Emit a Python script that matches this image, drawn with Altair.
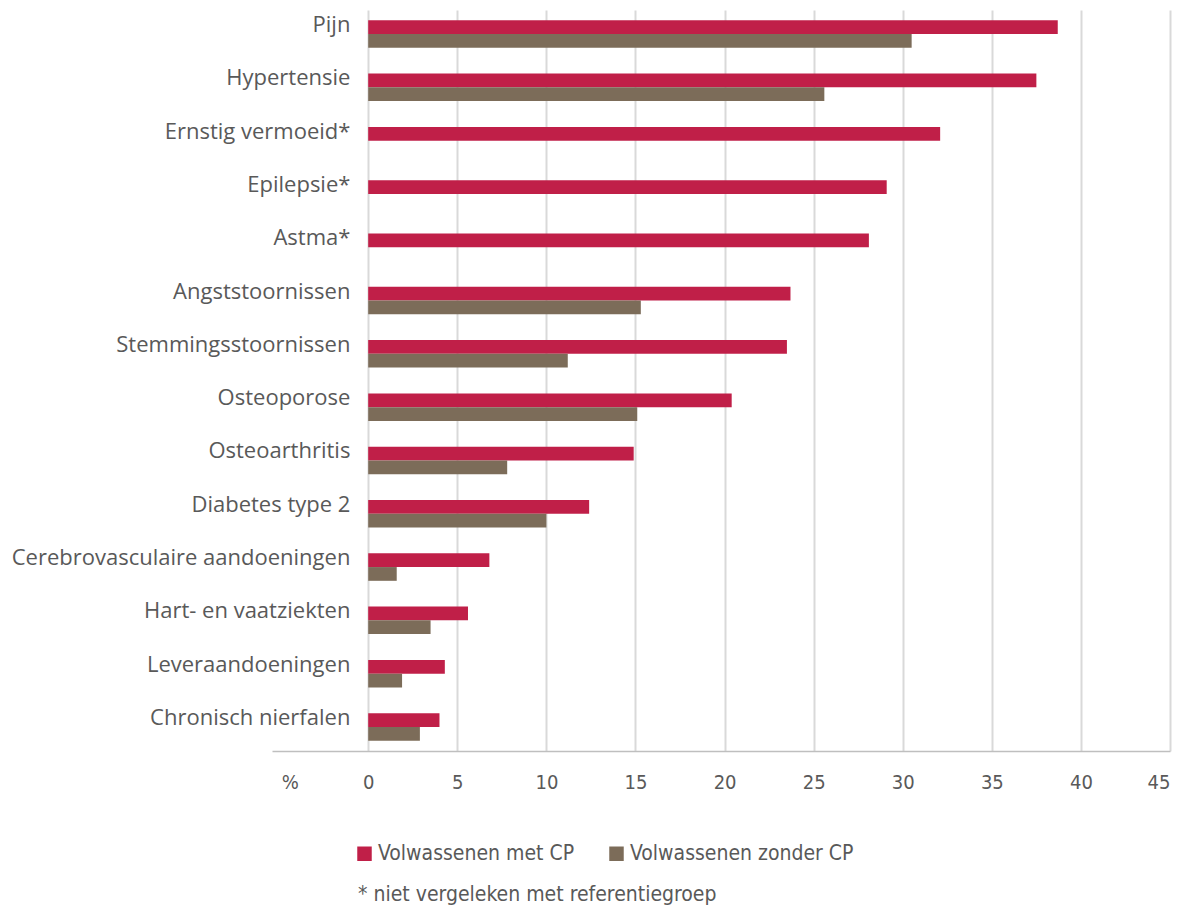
import altair as alt
import pandas as pd

categories = ["Pijn", "Hypertensie", "Ernstig vermoeid*", "Epilepsie*", "Astma*",
              "Angststoornissen", "Stemmingsstoornissen", "Osteoporose", "Osteoarthritis",
              "Diabetes type 2", "Cerebrovasculaire aandoeningen", "Hart- en vaatziekten",
              "Leveraandoeningen", "Chronisch nierfalen"]
met_cp = [38.7, 37.5, 32.1, 29.1, 28.1, 23.7, 23.5, 20.4, 14.9, 12.4, 6.8, 5.6, 4.3, 4.0]
zonder_cp = [30.5, 25.6, None, None, None, 15.3, 11.2, 15.1, 7.8, 10.0, 1.6, 3.5, 1.9, 2.9]
series = ["Volwassenen met CP", "Volwassenen zonder CP"]
colors = ["#C01F48", "#7C6C59"]
x_ticks = [0, 5, 10, 15, 20, 25, 30, 35, 40, 45]
footnote = "* niet vergeleken met referentiegroep"

rows = []
for c, a, b in zip(categories, met_cp, zonder_cp):
    rows.append({"cat": c, "serie": series[0], "val": a})
    if b is not None:
        rows.append({"cat": c, "serie": series[1], "val": b})
df = pd.DataFrame(rows)
lab = pd.DataFrame({"cat": categories})

TXT = "#595959"
NARROW = "DejaVu Sans Condensed, Open Sans"

yscale = alt.Scale(domain=categories, paddingInner=0.484, paddingOuter=0.193)
xscale = alt.Scale(domain=[-5.4, 45], nice=False, zero=False)

bars = alt.Chart(df).mark_bar().encode(
    y=alt.Y("cat:N", sort=categories, scale=yscale, axis=None),
    yOffset=alt.YOffset("serie:N", sort=series, scale=alt.Scale(paddingInner=0, paddingOuter=0)),
    x=alt.X("val:Q", scale=xscale, title=None,
            axis=alt.Axis(values=[-4.4] + x_ticks,
                          labelExpr="datum.value < 0 ? '%' : datum.label",
                          ticks=False, labelPadding=21, labelFontSize=20,
                          labelFont=NARROW, labelColor=TXT,
                          domainColor="#bfbfbf", domainWidth=1.5,
                          grid=True, gridWidth=2,
                          gridColor={"condition": {"test": "datum.value < 0", "value": "transparent"},
                                     "value": "#d9d9d9"})),
    x2=alt.datum(0),
    color=alt.Color("serie:N", sort=series,
                    scale=alt.Scale(domain=series, range=colors),
                    legend=alt.Legend(title=None, orient="none", legendX=82, legendY=833,
                                      direction="horizontal", symbolType="square",
                                      symbolSize=210, symbolStrokeWidth=0,
                                      labelFontSize=21, labelFont=NARROW, labelColor=TXT,
                                      labelLimit=0, columnPadding=31, labelOffset=3)),
)

labels = alt.Chart(lab).mark_text(align="right", baseline="middle", dy=-9,
                                  fontSize=22, font="Open Sans", color=TXT).encode(
    y=alt.Y("cat:N", sort=categories, scale=yscale, axis=None),
    x=alt.datum(-1.0),
    text="cat:N",
)

note = alt.Chart(pd.DataFrame({"t": [footnote]})).mark_text(
    align="left", baseline="middle", fontSize=21, font=NARROW, color=TXT).encode(
    x=alt.value(86), y=alt.value(885), text="t:N")

chart = alt.layer(bars, labels, note).properties(
    width=898, height=741,
    autosize=alt.AutoSizeParams(type="none"),
    padding={"left": 264, "top": 2, "right": 16, "bottom": 158},
).configure_view(stroke=None)

chart.save("out.html", embed_options={"renderer": "svg", "actions": False})
